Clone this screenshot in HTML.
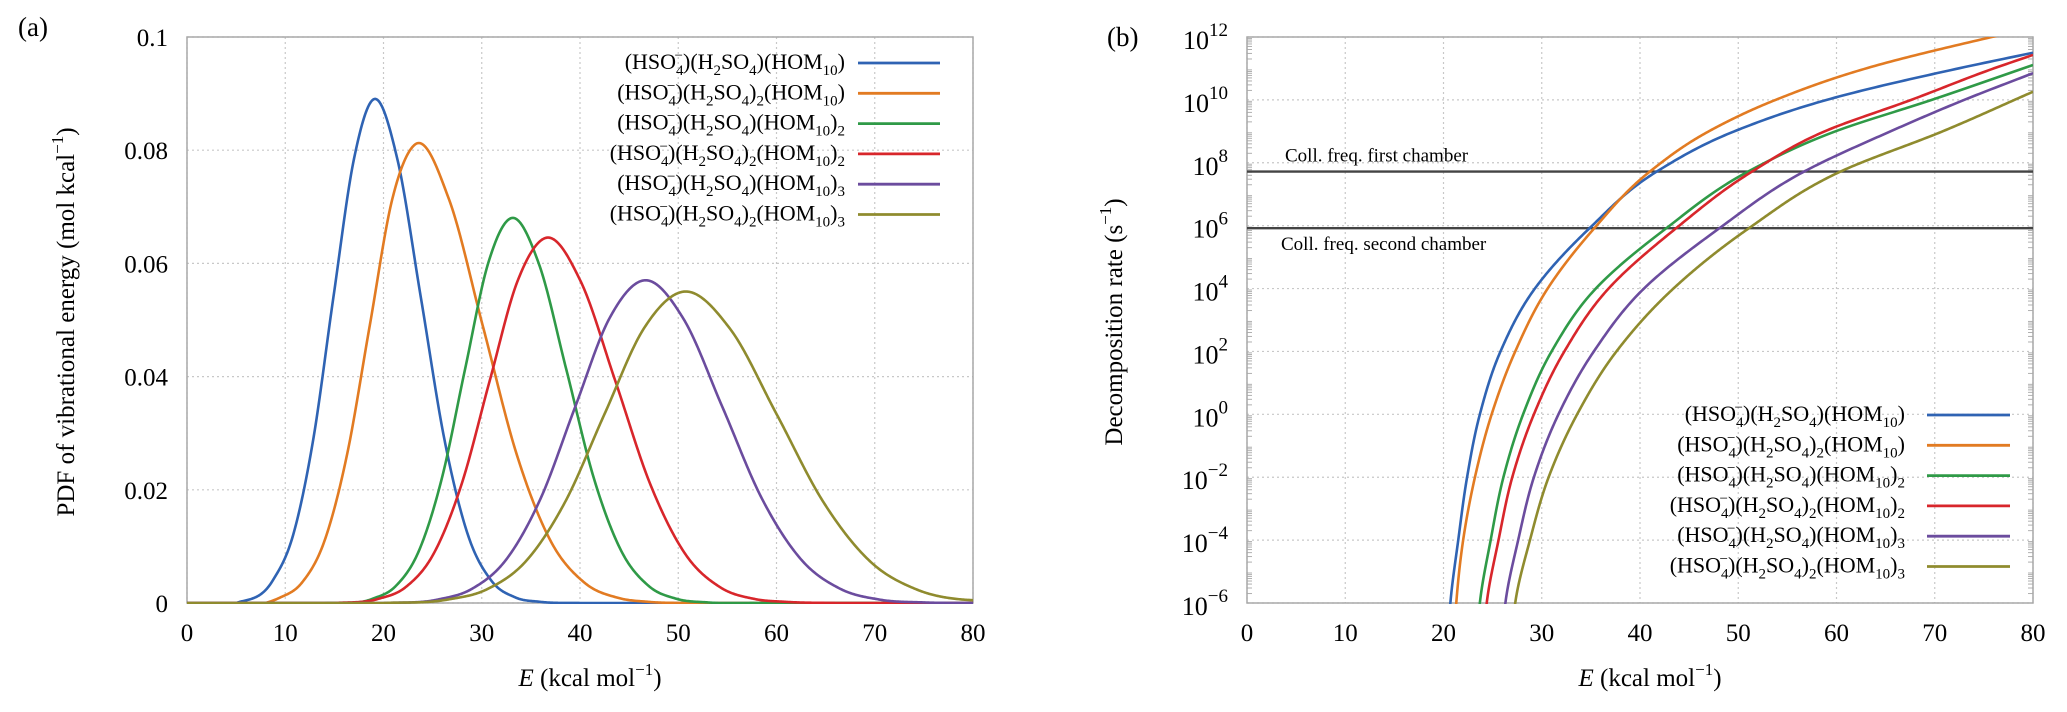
<!DOCTYPE html>
<html><head><meta charset="utf-8"><style>
html,body{margin:0;padding:0;background:#fff;}
svg{display:block;font-family:"Liberation Serif",serif;}
</style></head><body>
<svg id="fig" width="2067" height="712" viewBox="0 0 2067 712" xmlns="http://www.w3.org/2000/svg">
<defs>
<clipPath id="clipL"><rect x="187" y="37" width="786" height="567"/></clipPath>
<clipPath id="clipR"><rect x="1247" y="37" width="786" height="567"/></clipPath>
</defs>
<g id="panelA"></g>
<g id="panelB"></g>
</svg>
<script>
// ---------- data: panel (a) PDF of vibrational energy ----------
const pdfXTicks=[0,10,20,30,40,50,60,70,80];
const pdfYTicks=[0,0.02,0.04,0.06,0.08,0.1];
const pdfYTickLabels=["0","0.02","0.04","0.06","0.08","0.1"];
const pdfBlueE=[0,5,8.7,10.8,12.85,14.9,17,19,21.4,23.8,26.2,28.6,31,33.4,36,40,80];
const pdfBlueV=[0,0,0.0039,0.012,0.0289,0.054,0.0785,0.089,0.0785,0.054,0.0289,0.012,0.0039,0.001,0.0002,0,0];
const pdfOrangeE=[0,8,9.4,11.7,14,16.3,18.6,20.9,23.2,26.65,30.1,33.55,37,40.45,43.9,47,52,80];
const pdfOrangeV=[0,0,0.0009,0.0036,0.011,0.0263,0.049,0.0714,0.081,0.0714,0.049,0.0263,0.011,0.0036,0.0009,0.0002,0,0];
const pdfGreenE=[0,14,18.9,21.25,23.6,25.95,28.3,30.65,33,35.8,38.6,41.4,44.2,47,49.8,53,58,80];
const pdfGreenV=[0,0,0.00075,0.003,0.0092,0.0221,0.0413,0.06,0.068,0.06,0.0413,0.0221,0.0092,0.003,0.00075,0.0001,0,0];
const pdfRedE=[0,15,19.4,22.25,25.1,27.95,30.8,33.65,36.5,40.05,43.6,47.15,50.7,54.25,57.8,61,66,80];
const pdfRedV=[0,0,0.0007,0.0028,0.0087,0.021,0.0392,0.0569,0.0645,0.0569,0.0392,0.021,0.0087,0.0028,0.0007,0.0002,0,0];
const pdfPurpleE=[0,20,25.5,29,32.5,36,39.5,43,46.5,50.5,54.5,58.5,62.5,66.5,70.5,75,80];
const pdfPurpleV=[0,0,0.0006,0.0025,0.0077,0.0185,0.0346,0.0503,0.057,0.0503,0.0346,0.0185,0.0077,0.0025,0.0006,0.0001,0];
const pdfOliveE=[0,20,26.5,30.5,34.5,38.5,42.5,46.5,50.5,55.25,60,64.75,69.5,74.25,79,80];
const pdfOliveV=[0,0,0.0006,0.0024,0.0074,0.0179,0.0334,0.0485,0.055,0.0485,0.0334,0.0179,0.0074,0.0024,0.0006,0.0005];

// ---------- data: panel (b) decomposition rate (log10 s^-1) ----------
const rateXTicks=[0,10,20,30,40,50,60,70,80];
const rateYTicks=[-6,-4,-2,0,2,4,6,8,10,12];
const rateYTickExps=["−6","−4","−2","0","2","4","6","8","10","12"];
const collFirstLog=7.72;
const collSecondLog=5.92;
const rateBlueE=[20.4,20.7,21.5,22.4,23.7,25.8,29.3,34.8,41.7,49.6,59.0,72.4,80];
const rateBlueL=[-8,-6,-4,-2,0,2,4,5.9,7.72,9,10,11,11.5];
const rateOrangeE=[21.0,21.3,22.0,23.2,24.9,27.3,30.6,35.3,41.0,47.0,53.8,63.0,75.8,80];
const rateOrangeL=[-8,-6,-4,-2,0,2,4,5.9,7.72,9,10,11,12,12.3];
const rateGreenE=[23.4,23.7,24.8,26.1,28.1,31.0,35.5,42.6,51.0,59.9,69.7,80];
const rateGreenL=[-8,-6,-4,-2,0,2,4,5.9,7.72,9,10,11.11];
const rateRedE=[24.1,24.4,25.6,27.0,29.2,32.3,36.8,43.6,51.4,58.8,67.6,76,80];
const rateRedL=[-8,-6,-4,-2,0,2,4,5.9,7.72,9,10,11,11.43];
const ratePurpleE=[26.0,26.3,27.6,29.2,31.7,35.3,40.4,48.0,56.7,65.5,73,80];
const ratePurpleL=[-8,-6,-4,-2,0,2,4,5.9,7.72,9,10,10.85];
const rateOliveE=[27.0,27.3,28.8,30.7,33.6,37.6,43.4,51,60.4,70.8,80];
const rateOliveL=[-8,-6,-4,-2,0,2,4,5.9,7.72,9,10.26];

const seriesColors=["#2f63b3","#e27b22","#2f9a47","#d8262b","#6b4c9e","#8f8b2e"];
const seriesN1=["","2","","2","","2"];
const seriesN2=["","","2","2","3","3"];
const seriesNames=["blue","orange","green","red","purple","olive"];

// ---------- axes ----------
const L={x0:187,x1:973,y0:603,y1:37};
const R={x0:1247,x1:2033,y0:603,y1:37};
function xL(e){return L.x0+(e-0)/(80-0)*(L.x1-L.x0);}
function yL(v){return L.y0-(v-0)/(0.1-0)*(L.y0-L.y1);}
function xR(e){return R.x0+(e-0)/(80-0)*(R.x1-R.x0);}
function yR(l){return R.y0-(l-(-6))/(12-(-6))*(R.y0-R.y1);}

const NS="http://www.w3.org/2000/svg";
function mk(tag,attrs,parent){const el=document.createElementNS(NS,tag);for(const k in attrs)el.setAttribute(k,attrs[k]);if(parent)parent.appendChild(el);return el;}

// smooth cubic Hermite interpolator with three-point derivative estimates
function smoothFn(xs,ys){
  const n=xs.length;const d=[],m=new Array(n);
  for(let i=0;i<n-1;i++)d.push((ys[i+1]-ys[i])/(xs[i+1]-xs[i]));
  m[0]=d[0];m[n-1]=d[n-2];
  for(let i=1;i<n-1;i++){
    const h0=xs[i]-xs[i-1],h1=xs[i+1]-xs[i];
    m[i]=(d[i-1]*h1+d[i]*h0)/(h0+h1);
    if(d[i-1]===0&&d[i]===0)m[i]=0;
  }
  return function(x){
    let i=0;while(i<n-2&&x>xs[i+1])i++;
    const h=xs[i+1]-xs[i];const t=Math.max(0,Math.min(1,(x-xs[i])/h));
    const t2=t*t,t3=t2*t;
    return (2*t3-3*t2+1)*ys[i]+(t3-2*t2+t)*h*m[i]+(-2*t3+3*t2)*ys[i+1]+(t3-t2)*h*m[i+1];
  };
}
function polyD(pts){return "M"+pts.map(p=>p[0].toFixed(2)+","+p[1].toFixed(2)).join(" L");}

function formula(parent,x,y,n1,n2,name){
  const t=mk("text",{x:x,y:y,"text-anchor":"end","font-size":"22"},parent);
  
  
  const parts=[["(HSO",0],["4",1],["−",2],[")(H",0],["2",1],["SO",0],["4",1],[")",0]];
  if(n1){parts.push([n1,1]);}
  parts.push(["(HOM",0]);parts.push(["10",1]);parts.push([")",0]);
  if(n2){parts.push([n2,1]);}
  let cur=0;
  for(const p of parts){
    const target=p[1]===1?6:(p[1]===2?-9:0);
    const ts=mk("tspan",{dy:target-cur},t);cur=target;
    if(p[1])ts.setAttribute("font-size","15");
    if(p[1]===2)ts.setAttribute("dx","-9");
    ts.textContent=p[0];
  }
  return t;
}

// ================= Panel A =================
const A=document.getElementById("panelA");
const gridA=mk("g",{},A);
pdfXTicks.forEach(e=>{mk("line",{x1:xL(e),x2:xL(e),y1:L.y1,y2:L.y0,stroke:"#c8c8c8","stroke-width":1.2,"stroke-dasharray":"2,3"},gridA);});
pdfYTicks.forEach(v=>{mk("line",{x1:L.x0,x2:L.x1,y1:yL(v),y2:yL(v),stroke:"#c8c8c8","stroke-width":1.2,"stroke-dasharray":"2,3"},gridA);});
const frA=mk("rect",{x:L.x0,y:L.y1,width:L.x1-L.x0,height:L.y0-L.y1,fill:"none",stroke:"#a8a8a8","stroke-width":1.5},A);

pdfXTicks.forEach(e=>{const t=mk("text",{x:xL(e),y:641,"text-anchor":"middle","font-size":"25"},A);t.textContent=String(e);});
pdfYTicks.forEach((v,i)=>{const t=mk("text",{x:168,y:yL(v)+9,"text-anchor":"end","font-size":"25"},A);t.textContent=pdfYTickLabels[i];});
const pdfE=[pdfBlueE,pdfOrangeE,pdfGreenE,pdfRedE,pdfPurpleE,pdfOliveE];
const pdfV=[pdfBlueV,pdfOrangeV,pdfGreenV,pdfRedV,pdfPurpleV,pdfOliveV];
const curvesA=mk("g",{"clip-path":"url(#clipL)"},A);
for(let s=0;s<6;s++){
  const f=smoothFn(pdfE[s],pdfV[s]);const pts=[];
  const e0=pdfE[s][0],e1=pdfE[s][pdfE[s].length-1];
  for(let k=0;k<=800;k++){const e=e0+(e1-e0)*k/800;pts.push([xL(e),yL(Math.max(0,f(e)))]);}
  const p=mk("path",{d:polyD(pts),fill:"none",stroke:seriesColors[s],"stroke-width":2.6,"stroke-linejoin":"round"},curvesA);
  
  
}
const legA=mk("g",{},A);
for(let s=0;s<6;s++){
  const yy=63+s*30.3;
  formula(legA,845,yy+6,seriesN1[s],seriesN2[s],'legend-entry-a-'+seriesNames[s]);
  const ln=mk("line",{x1:858,x2:940,y1:yy,y2:yy,stroke:seriesColors[s],"stroke-width":2.8},legA);
  
}
let t=mk("text",{x:18,y:36,"font-size":"27"},A);t.textContent="(a)";
t=mk("text",{x:590,y:686,"text-anchor":"middle","font-size":"25"},A);
t.innerHTML='<tspan font-style="italic">E</tspan> (kcal mol<tspan dy="-11" font-size="17">−1</tspan><tspan dy="11">)</tspan>';
t=mk("text",{x:0,y:0,"text-anchor":"middle","font-size":"25",transform:"translate(74,322) rotate(-90)"},A);
t.innerHTML='PDF of vibrational energy (mol kcal<tspan dy="-11" font-size="17">−1</tspan><tspan dy="11">)</tspan>';

// ================= Panel B =================
const B=document.getElementById("panelB");
const gridB=mk("g",{},B);
rateXTicks.forEach(e=>{mk("line",{x1:xR(e),x2:xR(e),y1:R.y1,y2:R.y0,stroke:"#c8c8c8","stroke-width":1.2,"stroke-dasharray":"2,3"},gridB);});
rateYTicks.forEach(l=>{mk("line",{x1:R.x0,x2:R.x1,y1:yR(l),y2:yR(l),stroke:"#c8c8c8","stroke-width":1.2,"stroke-dasharray":"2,3"},gridB);});
const minor=mk("g",{stroke:"#b0b0b0","stroke-width":1},B);
for(let dcd=-6;dcd<12;dcd++){for(let k=2;k<10;k++){const yy=yR(dcd+Math.log10(k));mk("line",{x1:R.x0,x2:R.x0+5,y1:yy,y2:yy},minor);mk("line",{x1:R.x1-5,x2:R.x1,y1:yy,y2:yy},minor);}}
const frB=mk("rect",{x:R.x0,y:R.y1,width:R.x1-R.x0,height:R.y0-R.y1,fill:"none",stroke:"#a8a8a8","stroke-width":1.5},B);

rateXTicks.forEach(e=>{const t2=mk("text",{x:xR(e),y:641,"text-anchor":"middle","font-size":"25"},B);t2.textContent=String(e);});
rateYTicks.forEach((l,i)=>{const t2=mk("text",{x:1228,y:yR(l)+12,"text-anchor":"end","font-size":"26"},B);
  t2.innerHTML='10<tspan dy="-13" font-size="19">'+rateYTickExps[i]+'</tspan>';});
[[collFirstLog,'coll-freq-first-line'],[collSecondLog,'coll-freq-second-line']].forEach(c=>{const ln=mk("line",{x1:R.x0,x2:R.x1,y1:yR(c[0]),y2:yR(c[0]),stroke:"#444","stroke-width":2.4},B);});
t=mk("text",{x:1285,y:yR(collFirstLog)-10,"font-size":"19"},B);t.textContent="Coll. freq. first chamber";
t=mk("text",{x:1281,y:yR(collSecondLog)+22,"font-size":"19"},B);t.textContent="Coll. freq. second chamber";
const rateE=[rateBlueE,rateOrangeE,rateGreenE,rateRedE,ratePurpleE,rateOliveE];
const rateL=[rateBlueL,rateOrangeL,rateGreenL,rateRedL,ratePurpleL,rateOliveL];
const curvesB=mk("g",{"clip-path":"url(#clipR)"},B);
for(let s=0;s<6;s++){
  const f=smoothFn(rateL[s],rateE[s]);const pts=[];
  const l0=rateL[s][0],l1=rateL[s][rateL[s].length-1];
  for(let k=0;k<=600;k++){const l=l0+(l1-l0)*k/600;pts.push([xR(f(l)),yR(l)]);}
  const p=mk("path",{d:polyD(pts),fill:"none",stroke:seriesColors[s],"stroke-width":2.6,"stroke-linejoin":"round"},curvesB);
  
  
}
const legB=mk("g",{},B);
for(let s=0;s<6;s++){
  const yy=415+s*30.3;
  formula(legB,1905,yy+6,seriesN1[s],seriesN2[s],'legend-entry-b-'+seriesNames[s]);
  const ln=mk("line",{x1:1927,x2:2010,y1:yy,y2:yy,stroke:seriesColors[s],"stroke-width":2.8},legB);
  
}
t=mk("text",{x:1107,y:46,"font-size":"27"},B);t.textContent="(b)";
t=mk("text",{x:1650,y:686,"text-anchor":"middle","font-size":"25"},B);
t.innerHTML='<tspan font-style="italic">E</tspan> (kcal mol<tspan dy="-11" font-size="17">−1</tspan><tspan dy="11">)</tspan>';
t=mk("text",{x:0,y:0,"text-anchor":"middle","font-size":"25",transform:"translate(1122,322) rotate(-90)"},B);
t.innerHTML='Decomposition rate (s<tspan dy="-11" font-size="17">−1</tspan><tspan dy="11">)</tspan>';
</script>
</body></html>
